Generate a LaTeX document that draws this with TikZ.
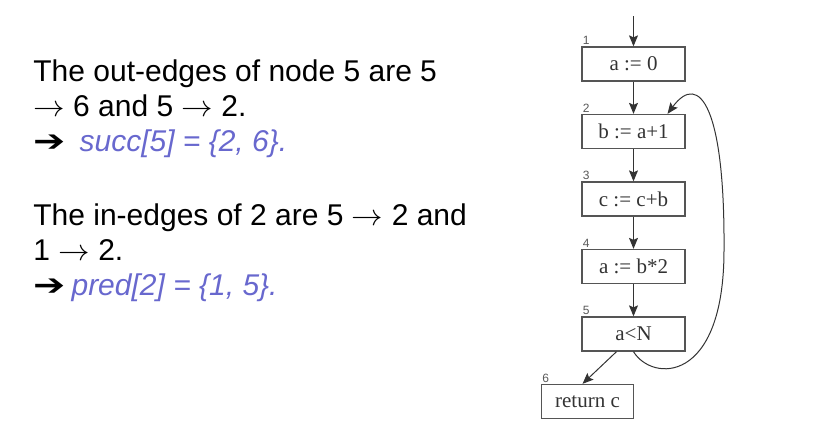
\documentclass[tikz,border=0pt]{standalone}
\usepackage{fix-cm}
\usepackage{fontspec}
\usepackage{graphicx}
\setmainfont{Liberation Sans}
\newfontfamily\boxfont{Liberation Serif}
\newfontfamily\symfont{DejaVu Sans}
\usetikzlibrary{positioning,arrows.meta}
\definecolor{setblue}{RGB}{104,104,206}
\definecolor{boxgray}{RGB}{85,85,85}
\newcommand{\bigarrow}{{\symfont\fontsize{24}{24}\selectfont\scalebox{1.6}[1.25]{➔}}}
\newcommand{\thinarrow}{\scalebox{1.05}[1]{$\rightarrow$}}

\begin{document}
\begin{tikzpicture}[x=1pt, y=1pt, node distance=67.5pt, thick,
		block/.style={rectangle, draw=boxgray, line width=1.3pt, minimum width=103pt,
			minimum height=34pt, inner sep=0pt, text=black!80, font=\boxfont\fontsize{21}{24}\selectfont},
		num/.style={font=\fontsize{12}{12}\selectfont, text=black!65, inner sep=1pt, anchor=south west},
		flow/.style={line width=1pt, draw=black!80, -{Stealth[length=11pt,width=9pt,inset=2pt]}},
		para/.style={anchor=north west, align=left, inner sep=0pt, font=\fontsize{30}{35}\selectfont}]
		
		\useasboundingbox (0,0) rectangle (817,429);
		
		\node[block, label={[num]north west:1}] (1) at (633.5,365) {a := 0};
		\node[block, label={[num]north west:2}] (2) [below of=1] {b := a+1};
		\node[block, label={[num]north west:3}] (3) [below of=2] {c := c+b};
		\node[block, label={[num]north west:4}] (4) [below of=3] {a := b*2};
		\node[block, label={[num]north west:5}] (5) [below of=4] {a\textless N};
		\node[block, minimum width=92pt, label={[num]north west:6}] (6) [below of=5, xshift=-46pt] {return c};
		\coordinate (entry) at ([yshift=30pt]1.north);
		
		\draw[flow] (entry) -- (1);
		\foreach \a/\b in {1/2, 2/3, 3/4, 4/5}
		\draw[flow] (\a) -- (\b);
		\draw[flow] ([xshift=-17pt]5.south) -- ([xshift=-5pt]6.north);
		\draw[flow] (5.south) .. controls (652,47) and (724,44) .. (724,179)
		.. controls (725,319) and (700,359) .. ([xshift=34pt]2.north);
		
		\node[para] (out) at (33,370) {The out-edges of node 5 are 5\\
			\thinarrow\ 6 and 5 \thinarrow\ 2.\\
			\bigarrow\hspace{14pt}\textcolor{setblue}{\itshape succ[5] = \{2, 6\}.}};
		\node[para] (in) at (33,226) {The in-edges of 2 are 5 \thinarrow\ 2 and\\
			1 \thinarrow\ 2.\\
			\bigarrow\hspace{6pt}\textcolor{setblue}{\itshape pred[2] = \{1, 5\}.}};
		
	\end{tikzpicture}
\end{document}
